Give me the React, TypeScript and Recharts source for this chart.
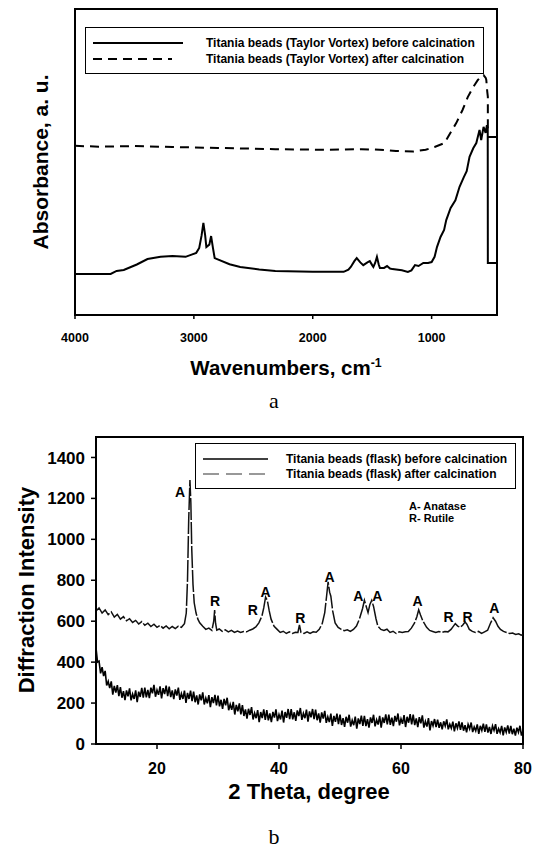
import React from 'react'
import {
  ComposedChart,
  Line,
  XAxis,
  YAxis,
  Legend,
  Scatter,
  ReferenceArea,
} from 'recharts'

const FONT = '"Liberation Sans", Arial, sans-serif'

// ---- (a) FTIR ----
const ftirTicks = [4000, 3000, 2000, 1000]

const ftirBeforeWn = [
  4000, 3700, 3650, 3590, 3480, 3390, 3280, 3180, 3070, 2980, 2955, 2935, 2920, 2905, 2895, 2870,
  2855, 2840, 2825, 2700, 2610, 2450, 2315, 2000, 1740, 1700, 1680, 1650, 1630, 1600, 1575, 1540,
  1520, 1500, 1490, 1475, 1460, 1445, 1435, 1400, 1375, 1350, 1330, 1250, 1200, 1170, 1140, 1110,
  1070, 1030, 1000, 975, 955, 925, 895, 877, 840, 800, 765, 730, 705, 681, 650, 624, 597, 583, 563,
  546, 535, 528, 527, 450, 450, 527,
]
const ftirBeforeAbs = [
  13.4, 13.4, 14.4, 14.7, 16.5, 18.3, 19.0, 19.3, 19.0, 20.3, 21.9, 26, 30.1, 26, 22.2, 23,
  25.8, 22, 18.6, 16.6, 15.7, 14.9, 14.4, 14.1, 14.1, 14.8, 15.7, 17.6, 18.6, 17.2, 16.3, 17.2,
  17.6, 16.3, 15.7, 17, 19.0, 16.5, 15.4, 15.4, 16.0, 15.2, 15.0, 14.6, 14.1, 14.6, 16.3, 16.0,
  17.0, 17.0, 17.3, 19, 22.2, 25.5, 27.8, 31, 35, 37.5, 41.9, 45, 47, 51.7, 54.5, 56.2, 60.5, 57.2, 61.5,
  59.5, 62, 61, 17, 17, 58.2, 58.2,
]

const ftirAfterWn = [
  4000, 3800, 3500, 3180, 2800, 2315, 1900, 1590, 1437, 1300, 1157, 1050, 975, 891, 850, 793,
  740, 695, 650, 611, 580, 563, 545, 540, 532, 527, 527,
]
const ftirAfterAbs = [
  55.3, 55.0, 55.2, 54.9, 54.6, 54.2, 54.0, 54.2, 54.0, 53.6, 53.4, 54, 54.9, 56.2, 59, 62.7,
  67, 71.3, 74.5, 76.8, 78, 78.4, 77.5, 76.8, 73, 71.3, 60,
]

const ftirSeries = [
  { name: 'Titania beads (Taylor Vortex) before calcination', dash: undefined, sampleEnd: 98 },
  { name: 'Titania beads (Taylor Vortex) after calcination', dash: '9 6', sampleEnd: 87 },
]

// ---- (b) XRD ----
const xrdXTicks = [20, 40, 60, 80]
const xrdYTicks = [0, 200, 400, 600, 800, 1000, 1200, 1400]

const xrdAfterTheta = [
  10, 10.5, 11, 11.5, 12, 12.5, 13, 13.5, 14, 14.5, 15, 15.5, 16, 16.5, 17, 17.5, 18, 18.5, 19, 19.5,
  20, 20.5, 21, 21.5, 22, 22.5, 23, 23.5, 24, 24.5, 24.8, 25, 25.2, 25.4, 25.55, 25.7, 25.9, 26.1,
  26.4, 26.7, 27, 27.5, 28, 28.5, 29, 29.3, 29.45, 29.6, 29.8, 30.2, 30.7, 31.2, 31.7, 32.2, 32.7,
  33.2, 33.7, 34.2, 34.7, 35.2, 35.7, 36.2, 36.7, 37.2, 37.5, 37.8, 38.1, 38.4, 38.7, 39.2, 39.7,
  40.2, 40.7, 41.2, 41.7, 42.2, 42.7, 43.1, 43.35, 43.6, 44.1, 44.6, 45.1, 45.6, 46.1, 46.6, 47.1,
  47.5, 47.8, 48.05, 48.3, 48.5, 48.8, 49.2, 49.7, 50.2, 50.7, 51.2, 51.7, 52.2, 52.7, 53.2, 53.7,
  54, 54.3, 54.6, 54.9, 55.2, 55.5, 55.9, 56.2, 56.7, 57.2, 57.7, 58.2, 58.7, 59.2, 59.7, 60.2,
  60.7, 61.2, 61.7, 62.2, 62.6, 62.9, 63.2, 63.6, 64.2, 64.7, 65.2, 65.7, 66.2, 66.7, 67.2, 67.7,
  68.2, 68.6, 68.9, 69.3, 69.7, 70.1, 70.5, 70.8, 71.2, 71.7, 72.2, 72.7, 73.2, 73.7, 74.2, 74.7,
  75.1, 75.5, 75.9, 76.3, 76.8, 77.3, 77.8, 78.3, 78.8, 79.3, 79.7, 80,
]
const xrdAfterCounts = [
  650, 665, 640, 655, 632, 645, 620, 633, 610, 622, 602, 612, 594, 604, 586, 598, 580, 590, 574, 585,
  570, 580, 566, 577, 563, 574, 564, 576, 570, 588, 640, 800, 1100, 1290, 1180, 950, 780, 690,
  640, 610, 592, 575, 560, 566, 555, 600, 655, 590, 556, 562, 550, 558, 548, 555, 545,
  552, 545, 550, 548, 556, 562, 572, 592, 625, 665, 718, 700, 650, 610, 575, 560,
  545, 551, 540, 548, 540, 546, 545, 582, 545, 540, 548, 540, 548, 546, 560, 590,
  642, 722, 792, 742, 722, 650, 592, 570, 560, 554, 558, 550, 560, 576, 612, 662,
  702, 672, 642, 682, 702, 672, 612, 576, 560, 555, 561, 545, 551, 540, 548, 545,
  548, 550, 566, 590, 622, 656, 630, 600, 570, 555, 550, 545, 550, 545, 550, 548,
  560, 576, 588, 576, 570, 580, 596, 585, 560, 550, 545, 550, 540, 548, 556, 592,
  617, 600, 575, 560, 550, 545, 540, 542, 535, 538, 532, 535,
]

// before calcination: read every 0.25 degree from 10 to 80
const xrdBeforeTheta = Array.from({ length: 281 }, (_, i) => 10 + i * 0.25)
const xrdBeforeCounts = [
  470, 400, 405, 345, 375, 332, 357, 286, 306, 273, 306, 241, 284, 251, 288, 234,
  278, 226, 258, 214, 262, 233, 272, 213, 244, 220, 262, 205, 256, 230, 274, 226,
  276, 228, 264, 224, 275, 248, 289, 231, 264, 240, 282, 223, 273, 244, 285, 234,
  280, 229, 262, 219, 267, 237, 275, 216, 246, 220, 261, 201, 250, 220, 261, 209,
  256, 204, 237, 193, 242, 213, 252, 193, 224, 199, 239, 180, 229, 200, 240, 189,
  236, 184, 216, 172, 220, 189, 226, 165, 194, 167, 206, 144, 191, 160, 198, 145,
  190, 137, 169, 124, 172, 142, 180, 120, 151, 126, 166, 107, 156, 127, 169, 118,
  166, 116, 149, 107, 157, 129, 169, 112, 144, 120, 163, 105, 156, 128, 171, 121,
  170, 120, 155, 113, 164, 136, 176, 118, 150, 126, 168, 109, 159, 130, 171, 121,
  168, 116, 149, 105, 154, 124, 162, 103, 133, 107, 148, 88, 137, 108, 148, 97,
  144, 93, 126, 84, 133, 104, 143, 85, 116, 92, 134, 75, 125, 97, 139, 89,
  137, 87, 121, 80, 130, 103, 143, 86, 118, 95, 137, 80, 130, 103, 145, 96,
  144, 94, 129, 87, 137, 109, 149, 91, 123, 99, 141, 83, 133, 104, 146, 96,
  143, 92, 125, 82, 131, 101, 140, 80, 111, 85, 126, 66, 112, 89, 122, 82,
  119, 79, 106, 72, 111, 88, 120, 72, 97, 77, 109, 62, 101, 77, 110, 69,
  106, 65, 92, 57, 96, 74, 105, 58, 83, 64, 96, 50, 89, 66, 99, 59,
  96, 56, 83, 49, 88, 66, 97, 50, 75, 56, 88, 42, 81, 58, 91, 51,
  88, 48, 75, 41, 80, 57, 89, 41, 66,
]

const peakTheta = [23.8, 29.5, 35.7, 37.8, 43.5, 48.3, 53.0, 56.1, 62.7, 67.8, 70.9, 75.3]
const peakCounts = [1233, 700, 656, 744, 617, 817, 724, 724, 700, 622, 622, 665]
const peakPhase = ['A', 'R', 'R', 'A', 'R', 'A', 'A', 'A', 'A', 'R', 'R', 'A']

const xrdSeries = [
  { name: 'Titania beads (flask) before calcination', dash: undefined, color: '#000' },
  { name: 'Titania beads (flask) after calcination', dash: '16 7', color: '#777' },
]

const zip = (xs: number[], ys: number[]) => xs.map((x, i) => ({ x, y: ys[i] }))

const ftirBefore = zip(ftirBeforeWn, ftirBeforeAbs)
const ftirAfter = zip(ftirAfterWn, ftirAfterAbs)
const xrdAfter = zip(xrdAfterTheta, xrdAfterCounts)
const xrdBefore = zip(xrdBeforeTheta, xrdBeforeCounts)
const peaks = peakTheta.map((x, i) => ({ x, y: peakCounts[i], label: peakPhase[i] }))

const axisLine = { stroke: '#000', strokeWidth: 2 }
const tickLine = { stroke: '#000', strokeWidth: 1.5 }

function LegendA() {
  return (
    <svg width={399} height={47} style={{ display: 'block' }}>
      <rect x={0.5} y={0.5} width={398} height={46} fill="#fff" stroke="#000" />
      {ftirSeries.map((s, i) => (
        <g key={s.name}>
          <line x1={8} x2={s.sampleEnd} y1={16 + i * 16} y2={16 + i * 16} stroke="#000" strokeWidth={2} strokeDasharray={s.dash} />
          <text x={121} y={16 + i * 16} dominantBaseline="central" fontFamily={FONT} fontWeight={700} fontSize={12}>
            {s.name}
          </text>
        </g>
      ))}
    </svg>
  )
}

function LegendB() {
  return (
    <svg width={321} height={82} style={{ display: 'block', overflow: 'visible' }}>
      <rect x={0.5} y={0.5} width={320} height={45} fill="#fff" stroke="#000" />
      {xrdSeries.map((s, i) => (
        <g key={s.name}>
          <line x1={8} x2={73} y1={16 + i * 15} y2={16 + i * 15} stroke={s.color} strokeWidth={1.5} strokeDasharray={s.dash} />
          <text x={91} y={16 + i * 15} dominantBaseline="central" fontFamily={FONT} fontWeight={700} fontSize={12}>
            {s.name}
          </text>
        </g>
      ))}
      <text x={214} y={63} dominantBaseline="central" fontFamily={FONT} fontWeight={700} fontSize={11}>A- Anatase</text>
      <text x={214} y={75} dominantBaseline="central" fontFamily={FONT} fontWeight={700} fontSize={11}>R- Rutile</text>
    </svg>
  )
}

function XTitle({ px, py, text, sup, size }: { px: number; py: number; text: string; sup?: string; size: number }) {
  return (
    <text x={px} y={py} textAnchor="middle" fontFamily={FONT} fontWeight={700} fontSize={size} fill="#000">
      {text}
      {sup && (
        <tspan dy={-size * 0.4} fontSize={size * 0.6}>
          {sup}
        </tspan>
      )}
    </text>
  )
}

function YTitle({ px, py, text, size }: { px: number; py: number; text: string; size: number }) {
  return (
    <text x={px} y={py} textAnchor="middle" transform={`rotate(-90, ${px}, ${py})`} fontFamily={FONT} fontWeight={700} fontSize={size} fill="#000">
      {text}
    </text>
  )
}

function PeakLabel(props: any) {
  const { cx, cy, payload } = props
  return (
    <text x={cx} y={cy} textAnchor="middle" dominantBaseline="central" fontFamily={FONT} fontWeight={700} fontSize={14} fill="#000">
      {payload.label}
    </text>
  )
}

const caption: React.CSSProperties = {
  position: 'absolute',
  width: 40,
  textAlign: 'center',
  fontFamily: '"Liberation Serif", "Times New Roman", serif',
  fontSize: 22,
  lineHeight: '22px',
}

export default function App() {
  return (
    <div style={{ position: 'absolute', left: 0, top: 0, width: 540, height: 850, background: '#fff' }}>
      <div style={{ position: 'absolute', left: 0, top: 0 }}>
        <ComposedChart width={540} height={390} margin={{ top: 9, right: 43, bottom: 35, left: 15 }}>
          <XAxis
            dataKey="x"
            type="number"
            domain={[450, 4000]}
            reversed
            ticks={ftirTicks}
            height={40}
            tickSize={4}
            tickMargin={14}
            axisLine={axisLine}
            tickLine={tickLine}
            tick={{ fontSize: 12.5, fontWeight: 700, fill: '#000', fontFamily: FONT }}
            label={<XTitle px={286} py={375} text="Wavenumbers, cm" sup="-1" size={20.5} />}
          />
          <YAxis
            type="number"
            domain={[0, 100]}
            width={60}
            tick={false}
            tickLine={false}
            axisLine={axisLine}
            label={<YTitle px={48} py={162} text="Absorbance, a. u." size={21} />}
          />
          <Legend
            layout="vertical"
            verticalAlign="middle"
            align="center"
            content={() => <LegendA />}
            wrapperStyle={{ left: 85, top: 27, width: 399, height: 47 }}
          />
          <ReferenceArea x1={450} x2={4000} y1={0} y2={100} fill="none" stroke="#000" strokeWidth={2} />
          <Line data={ftirBefore} dataKey="y" type="linear" stroke="#000" strokeWidth={2} dot={false} isAnimationActive={false} />
          <Line data={ftirAfter} dataKey="y" type="linear" stroke="#000" strokeWidth={2} strokeDasharray="9 6" dot={false} isAnimationActive={false} />
        </ComposedChart>
      </div>
      <div style={{ ...caption, left: 254, top: 390 }}>a</div>

      <div style={{ position: 'absolute', left: 0, top: 420 }}>
        <ComposedChart width={540} height={430} margin={{ top: 17, right: 17, bottom: 66, left: 36 }}>
          <XAxis
            dataKey="x"
            type="number"
            domain={[10, 80]}
            ticks={xrdXTicks}
            height={40}
            tickSize={5}
            tickMargin={14}
            axisLine={axisLine}
            tickLine={tickLine}
            tick={{ fontSize: 16, fontWeight: 700, fill: '#000', fontFamily: FONT }}
            label={<XTitle px={309} py={379} text="2 Theta, degree" size={22} />}
          />
          <YAxis
            type="number"
            domain={[0, 1500]}
            ticks={xrdYTicks}
            width={60}
            tickSize={5}
            tickMargin={6}
            axisLine={axisLine}
            tickLine={tickLine}
            tick={{ fontSize: 17, fontWeight: 700, fill: '#000', fontFamily: FONT }}
            label={<YTitle px={34} py={170} text="Diffraction Intensity" size={22} />}
          />
          <Legend
            layout="vertical"
            verticalAlign="middle"
            align="center"
            content={() => <LegendB />}
            wrapperStyle={{ left: 195, top: 23, width: 321, height: 82 }}
          />
          <ReferenceArea x1={10} x2={80} y1={0} y2={1500} fill="none" stroke="#000" strokeWidth={2} />
          <Line data={xrdBefore} dataKey="y" type="linear" stroke="#000" strokeWidth={1.6} dot={false} isAnimationActive={false} />
          <Line data={xrdAfter} dataKey="y" type="linear" stroke="#111" strokeWidth={1.5} strokeDasharray="22 2" dot={false} isAnimationActive={false} />
          <Scatter data={peaks} dataKey="y" shape={PeakLabel} isAnimationActive={false} />
        </ComposedChart>
      </div>
      <div style={{ ...caption, left: 254, top: 826 }}>b</div>
    </div>
  )
}
